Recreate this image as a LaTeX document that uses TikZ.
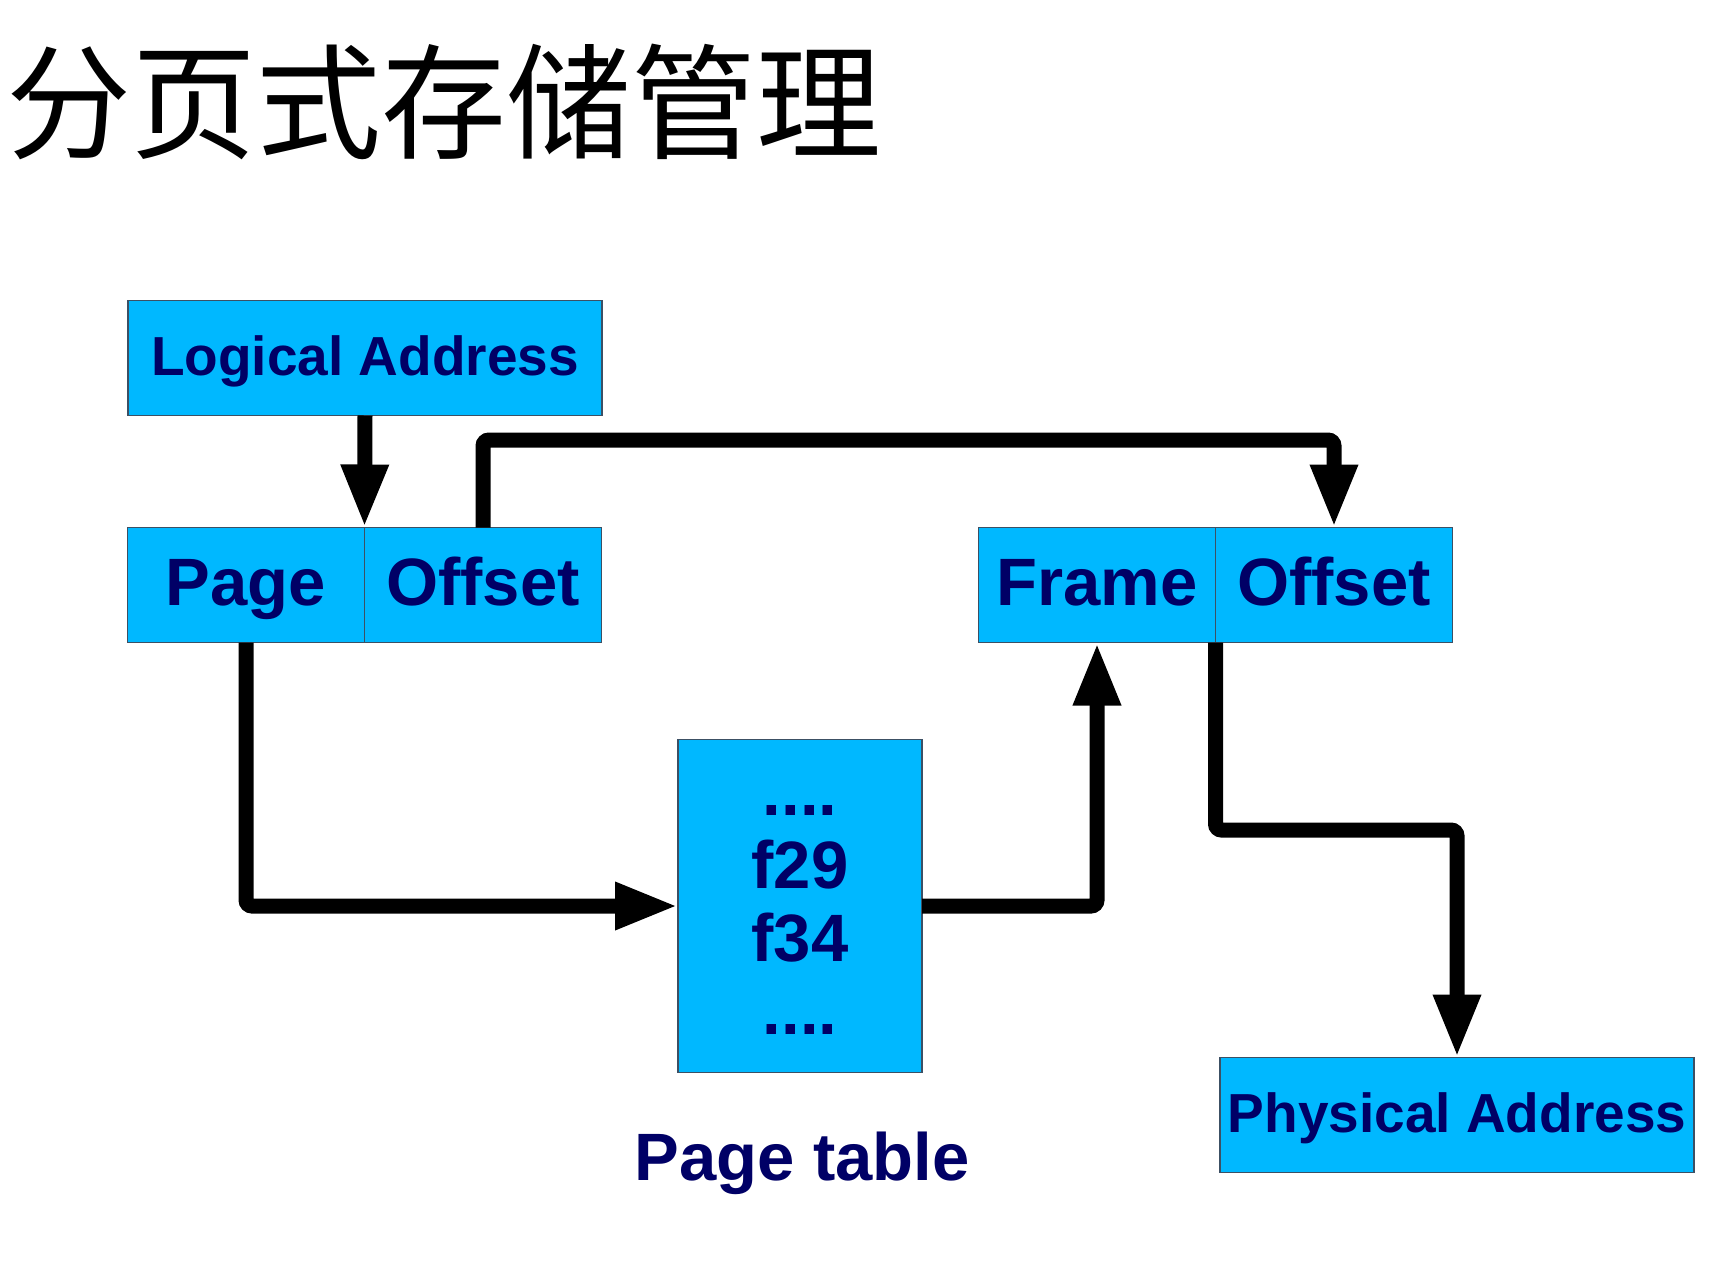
\documentclass[tikz,border=0pt]{standalone}
\usepackage{fontspec}
\setsansfont{Liberation Sans}
\newfontfamily\cjk{Noto Sans CJK SC}
\usepackage{xcolor}
\usetikzlibrary{arrows.meta, positioning}
\definecolor{boxcyan}{RGB}{0,184,255}
\definecolor{labelnavy}{RGB}{0,0,102}
\definecolor{boxedge}{RGB}{60,80,100}

\tikzset{
  addrbox/.style={fill=boxcyan, draw=boxedge, line width=1.5pt, inner sep=0pt, outer sep=0pt,
    minimum height=115pt, text height=40pt, text depth=6pt, text=labelnavy,
    font=\sffamily\bfseries\fontsize{55}{60}\selectfont},
  fieldbox/.style={addrbox, minimum width=237pt, text height=48pt, text depth=8pt,
    font=\sffamily\bfseries\fontsize{67}{72}\selectfont},
  bigtext/.style={text=labelnavy, font=\sffamily\bfseries\fontsize{67}{73}\selectfont},
  flow/.style={line width=15pt, rounded corners=6pt, -{Triangle[length=63pt,width=44pt]}}
}

\begin{document}
\begin{tikzpicture}[x=1pt, y=-1pt]
\useasboundingbox (0,0) rectangle (1733,1264);

% title
\node[font=\cjk\fontsize{125}{132}\selectfont, anchor=west, inner sep=0pt] (title) at (6,102) {分页式存储管理};

% logical side
\node[addrbox, minimum width=474pt] (logaddr) at (365,358) {Logical Address};
\node[fieldbox] (page) at (246,585) {Page};
\node[fieldbox, right=0pt of page] (offset) {Offset};

% physical side
\node[fieldbox] (frame) at (1097,585) {Frame};
\node[fieldbox, right=0pt of frame] (physoffset) {Offset};
\node[addrbox, minimum width=474pt] (physaddr) at (1457,1115) {Physical Address};

% page table
\node[addrbox, minimum width=244pt, minimum height=333pt] (pagetable) at (800,906) {};
\node[bigtext, align=center] (entries) at (800,920) {....\\f29\\f34\\....};
\node[bigtext] (ptlabel) at (802,1163) {Page table};

\coordinate (topbend) at (0,440);
\coordinate (lowbend) at (0,830);

\draw[flow] (logaddr.south) -- (page.north east);
\draw[flow] (offset.north) |- (physoffset.north |- topbend) -- (physoffset.north);
\draw[flow] (page.south) |- (pagetable.west);
\draw[flow] (pagetable.east) -| (frame.south);
\draw[flow] (physoffset.south west) |- (physaddr.north |- lowbend) -- (physaddr.north);
\end{tikzpicture}
\end{document}
